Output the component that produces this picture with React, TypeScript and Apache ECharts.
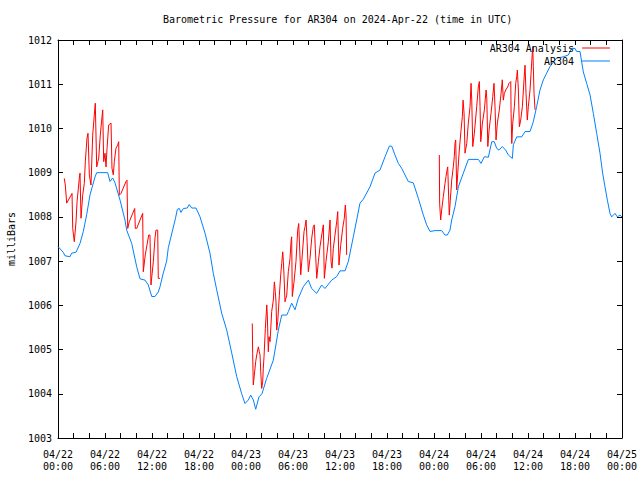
import React, { useEffect, useRef } from "react";
import * as echarts from "echarts";

// Hours since 2024-04-22 00:00 UTC
const ar304Hours = [0, 0.67, 0.89, 1.53, 1.74, 2.3, 2.81, 3.23, 3.66, 4.09, 4.72, 4.94, 6.34, 6.64, 6.98, 7.28, 7.92, 8.55, 8.77, 9.41, 10.05, 10.47, 11.11, 11.53, 11.97, 12.38, 12.8, 13.02, 13.44, 13.87, 14.08, 14.7, 15.0, 15.23, 15.49, 15.7, 16.0, 16.5, 16.76, 17.07, 17.62, 18.13, 18.77, 19.4, 19.83, 20.26, 20.9, 21.54, 22.18, 22.81, 23.45, 23.87, 24.3, 24.6, 24.94, 25.24, 25.66, 26.04, 26.64, 27.49, 28.13, 28.56, 29.2, 29.41, 29.83, 30.26, 30.68, 31.32, 31.96, 32.38, 33.02, 33.66, 34.08, 34.94, 35.58, 36.0, 36.64, 37.06, 37.7, 38.13, 38.55, 38.98, 39.83, 40.47, 41.11, 41.75, 42.3, 42.6, 43.02, 43.45, 43.87, 44.72, 45.36, 46.0, 46.64, 47.06, 47.49, 48.13, 48.98, 49.4, 49.7, 50.04, 50.26, 50.68, 51.11, 51.75, 52.39, 53.66, 54.0, 54.43, 54.94, 55.37, 55.7, 56.0, 56.3, 56.72, 57.15, 57.49, 58.0, 58.13, 58.56, 59.2, 59.62, 60.26, 60.68, 61.1, 61.53, 61.96, 62.38, 62.81, 63.23, 63.66, 64.5, 65.14, 65.57, 66.0, 66.21, 66.64, 67.06, 67.49, 67.92, 68.34, 68.77, 69.19, 69.53, 69.83, 70.13, 70.47, 70.68, 71.1, 71.4, 71.74, 72];
const ar304Values = [1007.33, 1007.2, 1007.12, 1007.1, 1007.18, 1007.2, 1007.4, 1007.67, 1008.05, 1008.5, 1008.9, 1009.0, 1009.0, 1008.8, 1008.88, 1008.77, 1008.38, 1007.93, 1007.7, 1007.4, 1006.87, 1006.6, 1006.57, 1006.46, 1006.2, 1006.2, 1006.3, 1006.42, 1006.73, 1007.0, 1007.3, 1007.75, 1007.97, 1008.17, 1008.19, 1008.1, 1008.19, 1008.2, 1008.28, 1008.2, 1008.2, 1008.0, 1007.63, 1007.18, 1006.72, 1006.35, 1005.82, 1005.44, 1004.92, 1004.39, 1004.0, 1003.78, 1003.86, 1003.97, 1003.86, 1003.65, 1003.93, 1004.0, 1004.35, 1004.76, 1005.44, 1005.78, 1005.78, 1005.86, 1006.05, 1005.9, 1006.16, 1006.42, 1006.57, 1006.38, 1006.27, 1006.46, 1006.38, 1006.57, 1006.65, 1006.78, 1006.78, 1006.99, 1007.55, 1007.93, 1008.31, 1008.4, 1008.68, 1008.99, 1009.06, 1009.36, 1009.6, 1009.6, 1009.4, 1009.21, 1009.1, 1008.8, 1008.77, 1008.42, 1008.04, 1007.82, 1007.67, 1007.69, 1007.69, 1007.59, 1007.59, 1007.7, 1007.93, 1008.23, 1008.68, 1008.99, 1009.3, 1009.3, 1009.21, 1009.36, 1009.35, 1009.7, 1009.7, 1009.55, 1009.51, 1009.59, 1009.51, 1009.4, 1009.32, 1009.63, 1009.81, 1009.81, 1009.93, 1009.93, 1010.15, 1010.49, 1010.87, 1011.1, 1011.25, 1011.4, 1011.5, 1011.59, 1011.62, 1011.66, 1011.81, 1011.81, 1011.74, 1011.74, 1011.28, 1011.02, 1010.76, 1010.34, 1009.89, 1009.44, 1008.99, 1008.68, 1008.38, 1008.08, 1008.0, 1008.08, 1008.0, 1008.04, 1008.0];

const analysis1Hours = [0.8, 0.93, 1.11, 1.79, 1.88, 2.08, 2.3, 2.43, 2.72, 2.81, 2.94, 3.15, 3.36, 3.49, 3.7, 3.83, 4.0, 4.21, 4.43, 4.63, 4.76, 4.94, 5.2, 5.4, 5.62, 5.71, 5.83, 6.0, 6.13, 6.26, 6.47, 6.77, 6.89, 7.06, 7.19, 7.4, 7.62, 7.75, 7.83, 8.04, 8.68, 8.81, 8.9, 9.1, 9.79, 9.87, 10.05, 10.81, 10.89, 11.14, 11.58, 11.74, 11.87, 12.17, 12.38, 12.51, 12.73, 12.8, 13.02];
const analysis1Values = [1008.87, 1008.72, 1008.31, 1008.53, 1007.74, 1007.44, 1007.89, 1008.34, 1008.87, 1008.99, 1007.97, 1008.49, 1008.76, 1009.25, 1009.78, 1009.89, 1008.95, 1008.72, 1009.85, 1010.3, 1010.57, 1009.13, 1009.33, 1009.85, 1010.27, 1010.42, 1009.25, 1009.44, 1009.13, 1009.55, 1010.08, 1010.12, 1009.1, 1008.95, 1009.25, 1009.55, 1009.63, 1009.7, 1008.49, 1008.53, 1008.8, 1008.83, 1007.74, 1007.89, 1008.19, 1007.74, 1007.74, 1008.08, 1006.76, 1007.14, 1007.59, 1007.59, 1006.46, 1006.99, 1007.52, 1007.7, 1007.7, 1006.61, 1006.61];

const analysis2Hours = [24.8, 24.85, 24.93, 25.06, 25.24, 25.37, 25.58, 25.7, 25.79, 25.88, 26.0, 26.13, 26.21, 26.3, 26.47, 26.65, 26.72, 26.85, 26.94, 27.07, 27.28, 27.49, 27.62, 27.74, 27.83, 27.92, 28.05, 28.26, 28.43, 28.56, 28.69, 28.77, 28.85, 28.98, 29.2, 29.4, 29.62, 29.75, 29.83, 29.91, 30.13, 30.38, 30.6, 30.73, 30.86, 30.99, 31.12, 31.41, 31.54, 31.67, 31.8, 31.96, 32.17, 32.39, 32.59, 32.72, 32.85, 33.03, 33.24, 33.45, 33.67, 33.87, 34.0, 34.21, 34.51, 34.73, 34.86, 34.98, 35.15, 35.36, 35.58, 35.71, 35.87, 36.09, 36.34, 36.55, 36.68, 36.77, 36.85];
const analysis2Values = [1005.59, 1004.91, 1004.2, 1004.42, 1004.73, 1004.88, 1005.06, 1004.95, 1004.88, 1004.5, 1004.12, 1004.27, 1004.58, 1004.84, 1005.48, 1006.01, 1005.78, 1004.95, 1005.29, 1005.18, 1005.86, 1006.12, 1006.53, 1006.31, 1006.08, 1005.44, 1005.63, 1006.23, 1006.69, 1006.95, 1007.21, 1006.99, 1006.69, 1006.08, 1006.23, 1006.76, 1007.06, 1007.44, 1007.55, 1006.2, 1006.53, 1006.99, 1007.7, 1007.85, 1007.25, 1006.69, 1006.99, 1007.67, 1007.78, 1007.93, 1007.44, 1006.76, 1007.06, 1007.52, 1007.78, 1007.82, 1007.29, 1006.61, 1006.99, 1007.33, 1007.59, 1007.82, 1006.61, 1006.99, 1007.44, 1007.93, 1006.99, 1006.84, 1007.29, 1007.59, 1007.89, 1008.12, 1006.91, 1007.36, 1007.74, 1007.97, 1008.27, 1008.04, 1007.14];

const analysis3Hours = [48.68, 48.72, 48.85, 48.98, 49.19, 49.41, 49.53, 49.62, 49.75, 49.83, 49.95, 50.08, 50.26, 50.46, 50.59, 50.68, 50.77, 50.9, 51.03, 51.23, 51.45, 51.62, 51.71, 51.84, 51.96, 52.18, 52.38, 52.6, 52.73, 52.82, 52.95, 53.15, 53.45, 53.66, 53.79, 53.88, 53.97, 54.18, 54.43, 54.65, 54.74, 54.87, 55.03, 55.28, 55.5, 55.66, 55.79, 55.92, 56.09, 56.34, 56.56, 56.72, 56.85, 56.98, 57.16, 57.41, 57.58, 57.8, 57.84, 57.93, 58.05, 58.26, 58.43, 58.56, 58.64, 58.77, 58.9, 59.07, 59.28, 59.49, 59.62, 59.75, 59.91, 60.04, 60.26, 60.39, 60.6, 60.68, 60.77, 60.9];
const analysis3Values = [1009.4, 1008.31, 1007.93, 1008.16, 1008.46, 1008.76, 1008.91, 1009.02, 1009.13, 1008.68, 1008.04, 1008.38, 1008.83, 1009.13, 1009.36, 1009.66, 1009.74, 1008.61, 1008.99, 1009.51, 1009.96, 1010.27, 1010.64, 1010.34, 1009.44, 1009.66, 1010.12, 1010.49, 1011.02, 1010.64, 1009.59, 1009.89, 1010.49, 1010.94, 1011.06, 1010.49, 1009.7, 1010.12, 1010.42, 1010.87, 1010.68, 1009.59, 1009.96, 1010.34, 1010.72, 1011.02, 1010.49, 1009.74, 1010.12, 1010.42, 1010.79, 1011.1, 1010.64, 1010.79, 1010.87, 1010.94, 1011.02, 1011.06, 1010.34, 1009.66, 1010.12, 1010.49, 1011.02, 1011.17, 1011.32, 1010.87, 1010.04, 1010.19, 1010.49, 1011.1, 1011.43, 1010.79, 1010.19, 1010.49, 1010.87, 1011.25, 1011.85, 1011.4, 1010.79, 1010.42];

const seriesNames = ["AR304 Analysis", "AR304"];
const titleText = "Barometric Pressure for AR304 on 2024-Apr-22 (time in UTC)";
const yAxisName = "milliBars";
const startMonth = "04";
const startDay = 22;

const FONT = "'DejaVu Sans Mono', monospace";

function zip(h: number[], v: number[]) {
  return h.map((x, i) => [x, v[i]]);
}

export default function App() {
  const ref = useRef<HTMLDivElement>(null);
  useEffect(() => {
    if (!ref.current) return;
    const chart = echarts.init(ref.current, null, { renderer: "svg" });
    const analysisData = [
      ...zip(analysis1Hours, analysis1Values),
      [18, "-"],
      ...zip(analysis2Hours, analysis2Values),
      [42, "-"],
      ...zip(analysis3Hours, analysis3Values),
    ];
    const pad = (n: number) => (n < 10 ? "0" + n : "" + n);
    const xLabel = (val: number) => {
      const d = startDay + Math.floor(val / 24);
      const hh = Math.round(val % 24);
      return `${startMonth}/${d}\n${pad(hh)}:00`;
    };
    const tickStyle = { lineStyle: { color: "#000", width: 1 } };
    const xBase = {
      type: "value",
      min: 0,
      max: 72,
      interval: 6,
      axisLine: { show: true, onZero: false, lineStyle: { color: "#000", width: 1 } },
      axisTick: { show: true, inside: true, length: 5, ...tickStyle },
      minorTick: { show: true, splitNumber: 3, length: 5, ...tickStyle },
      splitLine: { show: false },
    };
    const yBase = {
      type: "value",
      min: 1003,
      max: 1012,
      interval: 1,
      axisLine: { show: true, onZero: false, lineStyle: { color: "#000", width: 1 } },
      axisTick: { show: true, inside: true, length: 5, ...tickStyle },
      splitLine: { show: false },
    };
    const legendBase = {
      right: 30,
      align: "right",
      icon: "rect",
      itemWidth: 28,
      itemHeight: 1,
      padding: 0,
      textStyle: { fontFamily: FONT, fontSize: 10, color: "#000", padding: [0, 3, 0, 0] },
    };
    chart.setOption({
      animation: false,
      backgroundColor: "#fff",
      title: {
        text: titleText,
        left: 163,
        top: 14,
        padding: 0,
        textStyle: { fontFamily: FONT, fontSize: 10, fontWeight: "normal", color: "#000" },
      },
      legend: [
        { ...legendBase, data: [seriesNames[0]], top: 43 },
        { ...legendBase, data: [seriesNames[1]], top: 56 },
      ],
      grid: { left: 58, right: 18, top: 40, bottom: 42, containLabel: false, outerBoundsMode: "none" },
      xAxis: [
        {
          ...xBase,
          position: "bottom",
          axisLabel: {
            show: true,
            formatter: xLabel,
            fontFamily: FONT,
            fontSize: 10,
            color: "#000",
            lineHeight: 12,
            margin: 10,
          },
        },
        { ...xBase, position: "top", axisLabel: { show: false } },
      ],
      yAxis: [
        {
          ...yBase,
          position: "left",
          name: yAxisName,
          nameLocation: "middle",
          nameRotate: 90,
          nameGap: 42,
          nameTextStyle: { fontFamily: FONT, fontSize: 10, color: "#000" },
          axisLabel: {
            show: true,
            formatter: (v: number) => String(v),
            fontFamily: FONT,
            fontSize: 10,
            color: "#000",
            margin: 6,
          },
        },
        { ...yBase, position: "right", axisLabel: { show: false } },
      ],
      series: [
        {
          name: seriesNames[0],
          type: "line",
          data: analysisData,
          symbol: "none",
          connectNulls: false,
          lineStyle: { color: "#ff0000", width: 1 },
          itemStyle: { color: "#ff0000" },
        },
        {
          name: seriesNames[1],
          type: "line",
          data: zip(ar304Hours, ar304Values),
          symbol: "none",
          lineStyle: { color: "#0080ff", width: 1 },
          itemStyle: { color: "#0080ff" },
        },
      ],
    });
    return () => chart.dispose();
  }, []);
  return (
    <div
      ref={ref}
      style={{ position: "fixed", left: 0, top: 0, width: 640, height: 480, background: "#fff" }}
    />
  );
}
